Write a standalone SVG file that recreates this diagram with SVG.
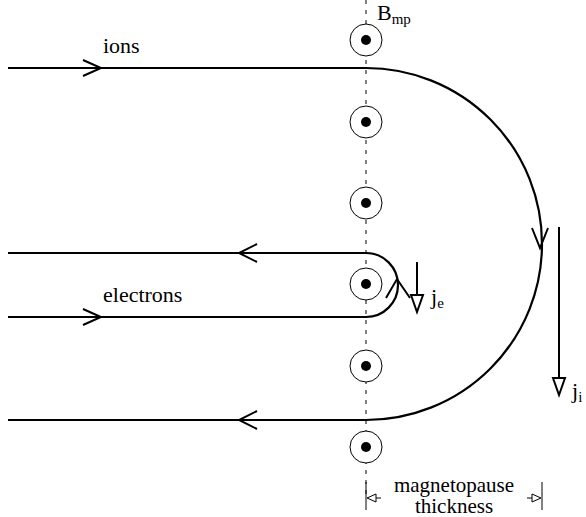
<svg xmlns="http://www.w3.org/2000/svg" width="586" height="517" viewBox="0 0 586 517">
<style>
.path{fill:none;stroke:#000;stroke-width:2.2}
.chev{fill:none;stroke:#000;stroke-width:2}
.dash{stroke:#000;stroke-width:1;stroke-dasharray:4,6}
.ring{fill:#fff;stroke:#000;stroke-width:1}
.dot{fill:#000}
.cur{stroke:#000;stroke-width:2;fill:none}
.head{fill:#fff;stroke:#000;stroke-width:2;stroke-linejoin:miter}
text{font-family:'Liberation Serif',serif;fill:#000}
.t{font-size:22px}
.m{font-size:21px}
.s{font-size:15px}
.dim{stroke:#000;stroke-width:1;fill:none}
</style>
<rect width="586" height="517" fill="#fff"/>
<line class="dash" x1="366" y1="0" x2="366" y2="500"/>
<g id="connectors">
  <path id="ions-path" class="path" d="M8,68 H366 A176,176 0 0 1 366,420 H8"/>
  <path id="electron-path" class="path" d="M8,317 H366 A32,32 0 0 0 366,253 H8"/>
  <polyline class="chev" points="83,60 101,68 83,76"/>
  <polyline class="chev" points="532,228 540,248 548,228"/>
  <polyline class="chev" points="257,411 239,420 257,429"/>
  <polyline class="chev" points="83,309 101,317 83,325"/>
  <polyline class="chev" points="257,244 239,253 257,262"/>
  <polyline class="chev" points="386,298 397,279 410,298"/>
</g>
<g id="fields">
  <g id="b1"><circle class="ring" cx="366" cy="40" r="16"/><circle class="dot" cx="366" cy="40" r="5"/></g>
  <g id="b2"><circle class="ring" cx="366" cy="122" r="16"/><circle class="dot" cx="366" cy="122" r="5"/></g>
  <g id="b3"><circle class="ring" cx="366" cy="203" r="16"/><circle class="dot" cx="366" cy="203" r="5"/></g>
  <g id="b4"><circle class="ring" cx="366" cy="284" r="16"/><circle class="dot" cx="366" cy="284" r="5"/></g>
  <g id="b5"><circle class="ring" cx="366" cy="366" r="16"/><circle class="dot" cx="366" cy="366" r="5"/></g>
  <g id="b6"><circle class="ring" cx="366" cy="447" r="16"/><circle class="dot" cx="366" cy="447" r="5"/></g>
</g>
<g id="je">
  <line class="cur" x1="417" y1="262" x2="417" y2="295"/>
  <polygon class="head" points="411,295 423,295 417,312"/>
  <text class="t" x="431" y="304" font-family="Liberation Serif, serif">j<tspan class="s" dy="4">e</tspan></text>
</g>
<g id="ji">
  <line class="cur" x1="559" y1="227" x2="559" y2="378"/>
  <polygon class="head" points="553,378 565,378 559,395"/>
  <text class="t" x="572" y="398" font-family="Liberation Serif, serif">j<tspan class="s" dy="4">i</tspan></text>
</g>
<text class="t" x="103" y="53" font-family="Liberation Serif, serif">ions</text>
<text class="t" x="103" y="302" font-family="Liberation Serif, serif">electrons</text>
<text class="t" x="377" y="20" font-family="Liberation Serif, serif">B<tspan class="s" dy="4">mp</tspan></text>
<g id="thickness">
  <line class="dim" x1="366" y1="482" x2="366" y2="510"/>
  <line class="dim" x1="542" y1="482" x2="542" y2="510" stroke="#999"/>
  <polygon class="dim" points="367,498 376,494 376,502"/>
  <line class="dim" x1="376" y1="498" x2="381" y2="498"/>
  <polygon class="dim" points="541,498 532,494 532,502"/>
  <line class="dim" x1="527" y1="498" x2="532" y2="498"/>
  <text class="m" x="454" y="492" text-anchor="middle" font-family="Liberation Serif, serif">magnetopause</text>
  <text class="m" x="454" y="513" text-anchor="middle" font-family="Liberation Serif, serif">thickness</text>
</g>
</svg>
